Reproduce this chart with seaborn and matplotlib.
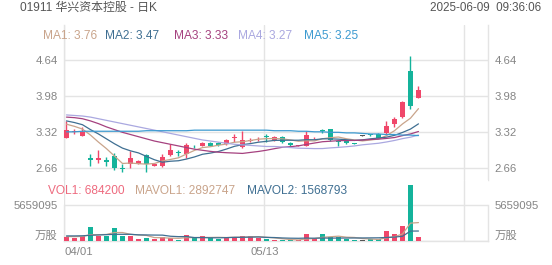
import numpy as np
import pandas as pd
import matplotlib
matplotlib.use("Agg")
import matplotlib.pyplot as plt
import seaborn as sns

# ---------------- data ----------------
title = "01911 华兴资本控股 - 日K"
timestamp = "2025-06-09  09:36:06"
x_tick_idx = [0, 25, 50]
x_tick_labels = ["04/01", "05/13", ""]

opens = [3.21, 3.32, 3.25, 2.84, 2.80, 2.80, 2.88, 2.66, 2.73, 2.73,
         2.89, 2.70, 2.70, 2.89, 2.94, 2.92, 3.06, 3.06, 3.12, 3.12,
         3.09, 3.21, 3.04, 3.16, 3.18, 3.23, 3.17, 3.22, 3.12, 3.06,
         3.06, 3.20, 3.35, 3.37, 3.14, 3.16, 3.11, 3.25, 3.27, 3.28,
         3.29, 3.47, 3.59, 4.44, 3.94]
closes = [3.36, 3.34, 3.31, 2.80, 2.84, 2.76, 2.66, 2.63, 2.84, 2.78,
          2.72, 2.72, 2.86, 2.98, 2.93, 3.07, 3.05, 3.12, 3.06, 3.07,
          3.17, 3.22, 3.17, 3.17, 3.19, 3.22, 3.23, 3.14, 3.07, 3.07,
          3.27, 3.21, 3.34, 3.17, 3.13, 3.11, 3.10, 3.25, 3.26, 3.21,
          3.43, 3.55, 3.87, 3.79, 4.09]
highs = [3.52, 3.37, 3.41, 2.92, 2.99, 2.86, 2.93, 2.72, 2.97, 2.81,
         2.92, 2.74, 2.92, 3.10, 2.98, 3.11, 3.08, 3.13, 3.13, 3.13,
         3.19, 3.28, 3.33, 3.20, 3.22, 3.28, 3.25, 3.25, 3.13, 3.08,
         3.33, 3.23, 3.37, 3.38, 3.17, 3.17, 3.12, 3.26, 3.28, 3.29,
         3.52, 3.59, 3.89, 4.72, 4.17]
lows = [3.20, 3.28, 3.24, 2.69, 2.75, 2.69, 2.61, 2.58, 2.65, 2.72,
        2.58, 2.69, 2.68, 2.88, 2.88, 2.83, 3.03, 3.05, 3.05, 3.06,
        3.08, 3.14, 3.03, 3.13, 3.16, 3.14, 3.16, 3.11, 3.06, 3.05,
        3.05, 3.19, 3.30, 3.16, 3.05, 3.10, 3.09, 3.24, 3.25, 3.20,
        3.28, 3.41, 3.57, 3.73, 3.94]
volumes = [580000, 500000, 800000, 2250000, 800000, 800000, 2000000, 800000, 850000, 300000,
           420000, 300000, 700000, 500000, 200000, 900000, 400000, 800000, 500000, 300000,
           700000, 700000, 800000, 800000, 420000, 250000, 150000, 150000, 150000, 150000,
           1050000, 450000, 1100000, 600000, 600000, 260000, 220000, 220000, 260000, 260000,
           1570000, 1050000, 2360000, 8800000, 684200]

# moving-average values before each window is full
ma1_head = [3.46, 3.42, 3.37, 3.26]
ma2_head = [3.52, 3.49, 3.45, 3.36, 3.28, 3.19, 3.10, 3.02, 2.97]
ma3_head = [3.59, 3.58, 3.56, 3.52, 3.47, 3.41, 3.36, 3.31, 3.27, 3.23,
            3.19, 3.15, 3.12, 3.09, 3.06, 3.03, 3.00, 2.98, 2.96]
ma4_head = [3.63, 3.62, 3.61, 3.59, 3.56, 3.53, 3.50, 3.47, 3.44, 3.41,
            3.38, 3.35, 3.32, 3.29, 3.26, 3.23, 3.20, 3.17, 3.15, 3.13,
            3.11, 3.09, 3.08, 3.07, 3.06, 3.05, 3.05, 3.04, 3.03]
ma5_vals = [3.32, 3.32, 3.33, 3.33, 3.33, 3.33, 3.33, 3.33, 3.33, 3.33,
            3.34, 3.34, 3.34, 3.34, 3.34, 3.34, 3.35, 3.35, 3.35, 3.35,
            3.35, 3.35, 3.35, 3.35, 3.35, 3.35, 3.34, 3.34, 3.34, 3.33,
            3.33, 3.32, 3.32, 3.31, 3.31, 3.30, 3.30, 3.29, 3.28, 3.28,
            3.27, 3.27, 3.26, 3.26, 3.25]
mavol1_head = [700000, 680000, 720000, 1000000]
mavol2_head = [800000, 800000, 820000, 900000, 950000, 1000000, 1050000, 1050000, 1050000]

ma_names = ["MA1", "MA2", "MA3", "MA4", "MA5"]
ma_label_values = ["3.76", "3.47", "3.33", "3.27", "3.25"]
vol_names = ["VOL1", "MAVOL1", "MAVOL2"]
vol_label_values = ["684200", "2892747", "1568793"]
price_ticks = [2.66, 3.32, 3.98, 4.64]
price_tick_labels = ["2.66", "3.32", "3.98", "4.64"]
vol_ticks = [0, 5659095]
vol_tick_labels = ["万股", "5659095"]

# ---------------- styling ----------------
sns.set_style("white")
plt.rcParams["font.family"] = ["Liberation Sans", "Noto Sans CJK SC", "DejaVu Sans"]

RED = "#F0476A"
GREEN = "#14B39B"
FLAT = "#555555"
GRID = "#E4E4E4"
TXT = "#858585"
ma_colors = ["#C9A48B", "#3F6F92", "#A5417F", "#AAA8E0", "#3C9AD0"]
vol_colors = ["#EE6A7E", "#C9A48B", "#3F6F92"]

df = pd.DataFrame({"open": opens, "close": closes, "high": highs,
                   "low": lows, "vol": volumes})
df["i"] = np.arange(len(df))
df["color"] = np.where(df.close > df.open, RED,
                       np.where(df.close < df.open, GREEN, FLAT))


def rolling_with_head(values, n, head):
    s = pd.Series(values, dtype=float).rolling(n).mean()
    s.iloc[:len(head)] = head
    return s.values


ma_series = [
    rolling_with_head(closes, 5, ma1_head),
    rolling_with_head(closes, 10, ma2_head),
    rolling_with_head(closes, 20, ma3_head),
    rolling_with_head(closes, 30, ma4_head),
    np.array(ma5_vals),
]
mavol_series = [
    rolling_with_head(volumes, 5, mavol1_head),
    rolling_with_head(volumes, 10, mavol2_head),
]

W, H = 552, 265
fig = plt.figure(figsize=(W / 100, H / 100), dpi=100)
ax = fig.add_axes([64 / W, 1 - 180 / H, 424 / W, 155 / H])
axv = fig.add_axes([64 / W, 1 - 241 / H, 424 / W, 61 / H], sharex=ax)

# ---------------- price panel ----------------
body_bottom = np.minimum(df.open, df.close)
body_h = np.maximum(np.abs(df.close - df.open), 0.014)
ax.vlines(df.i, df.low, df.high, colors=df.color, linewidth=1.0, zorder=3)
ax.bar(df.i, body_h, bottom=body_bottom, width=0.74, color=df.color,
       linewidth=0, zorder=4)
for vals, col in zip(ma_series, ma_colors):
    sns.lineplot(x=df.i, y=vals, ax=ax, color=col, linewidth=0.9,
                 legend=False, zorder=5)

ax.set_xlim(-0.31, 52.69)
ax.set_ylim(2.434, 5.283)
ax.set_yticks(price_ticks)
ax.set_yticklabels(price_tick_labels)
ax.set_xticks([t - 0.25 for t in x_tick_idx])
ax.grid(True, color=GRID, linewidth=1.0, zorder=0)
ax.tick_params(axis="y", length=0, labelleft=True, labelright=True,
               labelsize=8.2, labelcolor=TXT, pad=4.5)
ax.tick_params(axis="x", length=0, labelbottom=False)
ax.set_xlabel("")
ax.set_ylabel("")
for s in ["top", "bottom"]:
    ax.spines[s].set_visible(False)
for s in ["left", "right"]:
    ax.spines[s].set_color(GRID)
    ax.spines[s].set_linewidth(1.0)

# ---------------- volume panel ----------------
axv.bar(df.i, df.vol, width=0.74, color=df.color, linewidth=0, zorder=3)
for vals, col in zip(mavol_series, vol_colors[1:]):
    sns.lineplot(x=df.i, y=vals, ax=axv, color=col, linewidth=0.9,
                 legend=False, zorder=4)
axv.set_ylim(0, 9.589e6)
axv.set_yticks(vol_ticks)
axv.set_yticklabels(vol_tick_labels)
axv.set_xticks([t - 0.25 for t in x_tick_idx])
axv.set_xticklabels(x_tick_labels)
axv.grid(True, color=GRID, linewidth=1.0, zorder=0)
axv.tick_params(axis="y", length=0, labelleft=True, labelright=True,
                labelsize=8.2, labelcolor=TXT, pad=4.5)
axv.tick_params(axis="x", length=0, labelsize=8.2, labelcolor=TXT, pad=4)
axv.set_xlabel("")
axv.set_ylabel("")
axv.spines["top"].set_visible(False)
for s in ["left", "right", "bottom"]:
    axv.spines[s].set_color(GRID)
    axv.spines[s].set_linewidth(1.0)
axv.spines["left"].set_bounds(0, vol_ticks[1])
axv.spines["right"].set_bounds(0, vol_ticks[1])
xl = axv.get_xticklabels()
xl[0].set_horizontalalignment("left")
for lbl in axv.get_yticklabels():
    if lbl.get_text() == "万股":
        lbl.set_verticalalignment("bottom")

# ---------------- header & legends ----------------
fig.text(20 / W, 1 - 8 / H, title, ha="left", va="center",
         fontsize=8.6, color="#555555")
fig.text(541 / W, 1 - 8 / H, timestamp, ha="right", va="center",
         fontsize=8.4, color="#555555")

ma_x = [43, 105, 174, 238, 304]
for name, val, col, xp in zip(ma_names, ma_label_values, ma_colors, ma_x):
    fig.text(xp / W, 1 - 36 / H, f"{name}: {val}", ha="left", va="center",
             fontsize=8.6, color=col)

vol_x = [48, 135, 247]
for name, val, col, xp in zip(vol_names, vol_label_values, vol_colors, vol_x):
    fig.text(xp / W, 1 - 191 / H, f"{name}: {val}", ha="left", va="center",
             fontsize=8.6, color=col)

fig.savefig("out.png", dpi=100, facecolor="white")
